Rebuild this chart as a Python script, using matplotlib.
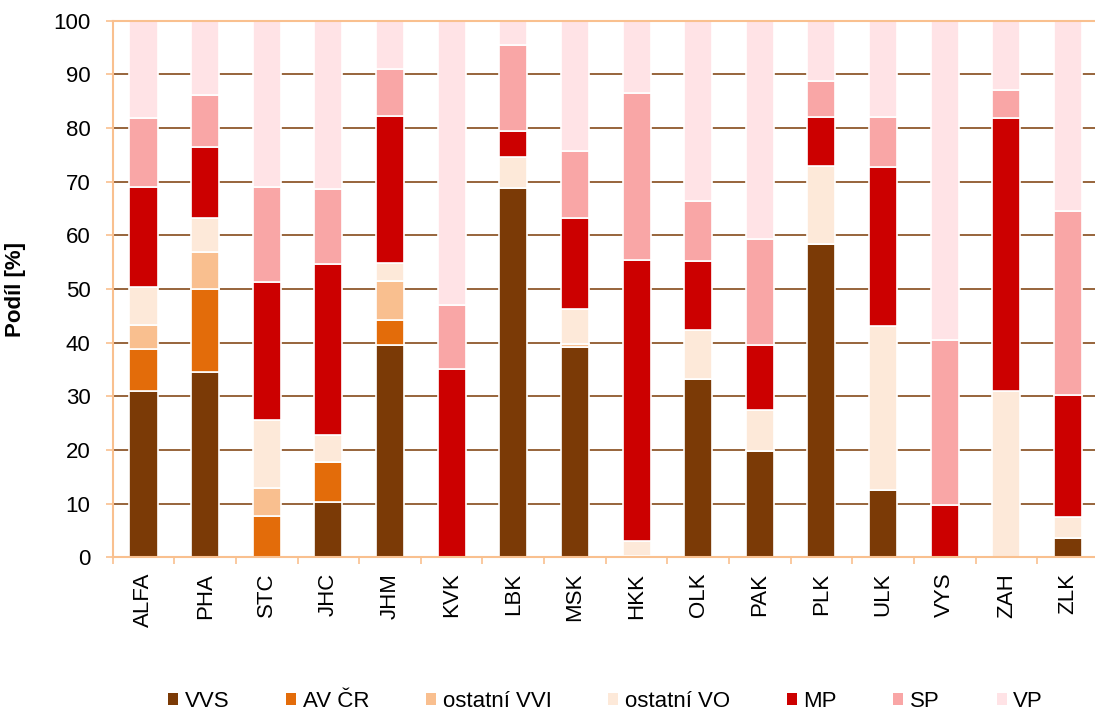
import matplotlib
matplotlib.use("Agg")
import matplotlib.pyplot as plt
from matplotlib.patches import Patch
import numpy as np

plt.rcParams['font.family'] = ['Liberation Sans', 'DejaVu Sans']

kraje = ["ALFA", "PHA", "STC", "JHC", "JHM", "KVK", "LBK", "MSK",
         "HKK", "OLK", "PAK", "PLK", "ULK", "VYS", "ZAH", "ZLK"]

vvs = [31.1, 34.5, 0, 10.3, 39.6, 0, 68.8, 39.3, 0.3, 33.2, 19.8, 58.4, 12.5, 0, 0, 3.7]
av_cr = [7.7, 15.5, 7.7, 7.4, 4.6, 0, 0, 0, 0, 0, 0, 0, 0, 0, 0, 0]
ostatni_vvi = [4.5, 7.0, 5.3, 0, 7.3, 0, 0, 0.5, 0, 0, 0, 0, 0, 0, 0, 0]
ostatni_vo = [7.1, 6.3, 12.7, 5.2, 3.4, 0, 5.8, 6.5, 2.8, 9.2, 7.7, 14.6, 30.6, 0, 31.0, 3.8]
mp = [18.6, 13.1, 25.6, 31.7, 27.3, 35.1, 4.8, 16.9, 52.3, 12.9, 12.0, 9.0, 29.6, 9.7, 50.9, 22.7]
sp = [12.9, 9.7, 17.7, 14.0, 8.8, 11.9, 16.0, 12.5, 31.2, 11.1, 19.9, 6.7, 9.3, 30.9, 5.2, 34.3]
vp = [18.1, 13.9, 31.0, 31.4, 9.0, 53.0, 4.6, 24.3, 13.4, 33.6, 40.6, 11.3, 18.0, 59.4, 12.9, 35.5]

nazvy = ["VVS", "AV ČR", "ostatní VVI", "ostatní VO", "MP", "SP", "VP"]
barvy = ["#7B3A06", "#E36C0A", "#F9BF8F", "#FDE9D9", "#CC0000", "#F9A6A6", "#FFE3E6"]
serie = [vvs, av_cr, ostatni_vvi, ostatni_vo, mp, sp, vp]

osa_barva = "#F9C08F"

fig = plt.figure(figsize=(10.95, 7.11), dpi=100)
ax = fig.add_axes([0.1029, 0.2159, 0.9006, 0.755])

x = np.arange(len(kraje))
spodek = np.zeros(len(kraje))

# skladane sloupce
for hodnoty, barva in zip(serie, barvy):
    hodnoty = np.array(hodnoty)
    ax.bar(x, hodnoty, bottom=spodek, width=0.455, color=barva,
           edgecolor="white", linewidth=1.2)
    spodek += hodnoty

ax.set_xlim(-0.5, len(kraje) - 0.5)
ax.set_ylim(0, 100)
ax.set_yticks(np.arange(0, 101, 10))

ax.set_axisbelow(True)
ax.yaxis.grid(True, color="#7B3A06", linewidth=1.1)

ax.set_xticks(x)
ax.set_xticklabels(kraje, rotation=90, fontsize=16)
ax.set_xticks(np.arange(-0.5, len(kraje), 1), minor=True)
ax.tick_params(axis="x", which="major", length=0, pad=11)
ax.tick_params(axis="x", which="minor", length=5, color=osa_barva, width=1.2)
ax.tick_params(axis="y", length=5, color=osa_barva, width=1.2, pad=11,
               labelsize=16)

for strana in ["left", "bottom", "top"]:
    ax.spines[strana].set_color(osa_barva)
    ax.spines[strana].set_linewidth(1.5)
ax.spines["right"].set_visible(False)

ax.set_ylabel("Podíl [%]", fontsize=16, fontweight="bold")
ax.yaxis.set_label_coords(-0.088, 0.5)

handles = [Patch(facecolor=b, edgecolor="none") for b in barvy]
fig.legend(handles, nazvy, loc="center", bbox_to_anchor=(0.553, 0.013),
           ncol=7, frameon=False, fontsize=16, handlelength=0.45,
           handleheight=0.45, handletextpad=0.3, columnspacing=2.55,
           borderpad=0, borderaxespad=0)

fig.savefig("out.png", dpi=100)
